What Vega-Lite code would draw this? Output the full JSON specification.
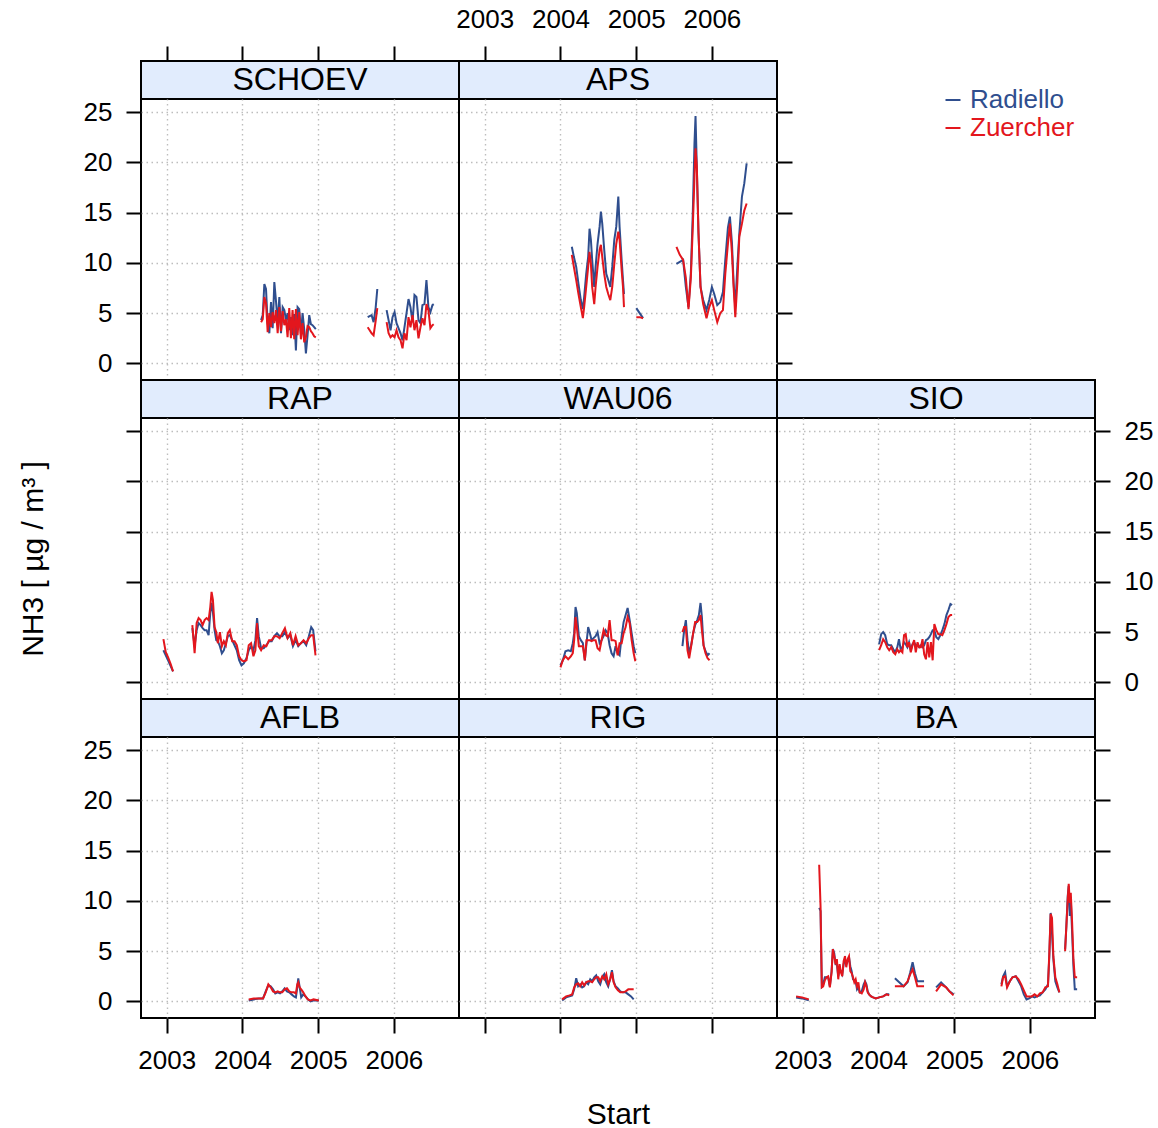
{
  "$schema": "https://vega.github.io/schema/vega-lite/v6.json",
  "padding": {"left": 17, "top": 5, "right": 5, "bottom": 5},
  "columns": 3,
  "spacing": 0,
  "bounds": "flush",
  "align": "each",
  "datasets": {
    "SCHOEV": [
      {"seg":1,"Start":2004.246,"Radiello":4.3,"Zuercher":4.1},{"seg":1,"Start":2004.268,"Radiello":4.8,"Zuercher":4.4},{"seg":1,"Start":2004.289,"Radiello":7.9,"Zuercher":6.6},{"seg":1,"Start":2004.311,"Radiello":7.4,"Zuercher":6.0},{"seg":1,"Start":2004.333,"Radiello":4.0,"Zuercher":3.1},{"seg":1,"Start":2004.355,"Radiello":3.0,"Zuercher":5.0},{"seg":1,"Start":2004.377,"Radiello":6.1,"Zuercher":3.6},{"seg":1,"Start":2004.399,"Radiello":3.5,"Zuercher":5.1},{"seg":1,"Start":2004.421,"Radiello":8.1,"Zuercher":4.0},{"seg":1,"Start":2004.443,"Radiello":6.2,"Zuercher":5.3},{"seg":1,"Start":2004.465,"Radiello":4.0,"Zuercher":3.0},{"seg":1,"Start":2004.487,"Radiello":6.6,"Zuercher":5.6},{"seg":1,"Start":2004.509,"Radiello":3.0,"Zuercher":3.2},{"seg":1,"Start":2004.531,"Radiello":5.6,"Zuercher":5.2},{"seg":1,"Start":2004.553,"Radiello":5.3,"Zuercher":3.8},{"seg":1,"Start":2004.575,"Radiello":4.3,"Zuercher":4.4},{"seg":1,"Start":2004.596,"Radiello":5.0,"Zuercher":2.6},{"seg":1,"Start":2004.618,"Radiello":3.3,"Zuercher":5.5},{"seg":1,"Start":2004.640,"Radiello":4.6,"Zuercher":2.5},{"seg":1,"Start":2004.662,"Radiello":2.8,"Zuercher":5.3},{"seg":1,"Start":2004.684,"Radiello":4.9,"Zuercher":2.4},{"seg":1,"Start":2004.706,"Radiello":1.3,"Zuercher":5.4},{"seg":1,"Start":2004.728,"Radiello":5.6,"Zuercher":2.8},{"seg":1,"Start":2004.750,"Radiello":5.4,"Zuercher":5.1},{"seg":1,"Start":2004.772,"Radiello":2.9,"Zuercher":2.4},{"seg":1,"Start":2004.794,"Radiello":5.0,"Zuercher":4.0},{"seg":1,"Start":2004.816,"Radiello":3.4,"Zuercher":2.1},{"seg":1,"Start":2004.838,"Radiello":1.0,"Zuercher":2.6},{"seg":1,"Start":2004.860,"Radiello":2.8,"Zuercher":3.7},{"seg":1,"Start":2004.882,"Radiello":4.8,"Zuercher":3.6},{"seg":1,"Start":2004.904,"Radiello":3.9,"Zuercher":3.2},{"seg":1,"Start":2004.925,"Radiello":3.8,"Zuercher":3.0},{"seg":1,"Start":2004.947,"Radiello":3.6,"Zuercher":2.7},{"seg":1,"Start":2004.969,"Radiello":3.4,"Zuercher":2.6},
      {"seg":2,"Start":2005.654,"Radiello":4.6,"Zuercher":3.6},{"seg":2,"Start":2005.680,"Radiello":4.7,"Zuercher":3.3},{"seg":2,"Start":2005.706,"Radiello":4.8,"Zuercher":3.0},{"seg":2,"Start":2005.732,"Radiello":4.1,"Zuercher":2.8},{"seg":2,"Start":2005.759,"Radiello":5.5,"Zuercher":4.2},{"seg":2,"Start":2005.781,"Radiello":7.4,"Zuercher":5.5},
      {"seg":3,"Start":2005.904,"Radiello":5.3,"Zuercher":4.1},{"seg":3,"Start":2005.930,"Radiello":4.3,"Zuercher":3.0},{"seg":3,"Start":2005.956,"Radiello":3.3,"Zuercher":2.6},{"seg":3,"Start":2005.982,"Radiello":4.6,"Zuercher":2.8},{"seg":3,"Start":2006.009,"Radiello":5.1,"Zuercher":2.6},{"seg":3,"Start":2006.035,"Radiello":4.0,"Zuercher":3.3},{"seg":3,"Start":2006.061,"Radiello":3.5,"Zuercher":2.6},{"seg":3,"Start":2006.088,"Radiello":3.0,"Zuercher":2.3},{"seg":3,"Start":2006.114,"Radiello":2.3,"Zuercher":1.5},{"seg":3,"Start":2006.140,"Radiello":3.6,"Zuercher":3.0},{"seg":3,"Start":2006.167,"Radiello":5.0,"Zuercher":2.3},{"seg":3,"Start":2006.193,"Radiello":6.4,"Zuercher":4.6},{"seg":3,"Start":2006.219,"Radiello":5.6,"Zuercher":3.6},{"seg":3,"Start":2006.246,"Radiello":4.1,"Zuercher":4.8},{"seg":3,"Start":2006.272,"Radiello":6.8,"Zuercher":3.3},{"seg":3,"Start":2006.298,"Radiello":6.6,"Zuercher":4.3},{"seg":3,"Start":2006.325,"Radiello":4.3,"Zuercher":2.5},{"seg":3,"Start":2006.351,"Radiello":4.0,"Zuercher":3.6},{"seg":3,"Start":2006.377,"Radiello":5.8,"Zuercher":4.5},{"seg":3,"Start":2006.404,"Radiello":5.9,"Zuercher":3.8},{"seg":3,"Start":2006.430,"Radiello":8.3,"Zuercher":5.9},{"seg":3,"Start":2006.456,"Radiello":5.6,"Zuercher":5.3},{"seg":3,"Start":2006.482,"Radiello":5.1,"Zuercher":3.5},{"seg":3,"Start":2006.509,"Radiello":5.8,"Zuercher":3.8},{"seg":3,"Start":2006.526,"Radiello":5.9,"Zuercher":3.9}
    ],
    "APS": [
      {"seg":1,"Start":2004.150,"Radiello":11.6,"Zuercher":10.8},{"seg":1,"Start":2004.177,"Radiello":10.6,"Zuercher":9.6},{"seg":1,"Start":2004.208,"Radiello":9.6,"Zuercher":8.3},{"seg":1,"Start":2004.238,"Radiello":7.9,"Zuercher":6.9},{"seg":1,"Start":2004.269,"Radiello":6.3,"Zuercher":5.6},{"seg":1,"Start":2004.296,"Radiello":5.4,"Zuercher":4.5},{"seg":1,"Start":2004.313,"Radiello":6.6,"Zuercher":5.6},{"seg":1,"Start":2004.340,"Radiello":8.9,"Zuercher":7.6},{"seg":1,"Start":2004.366,"Radiello":10.6,"Zuercher":9.6},{"seg":1,"Start":2004.384,"Radiello":13.4,"Zuercher":11.1},{"seg":1,"Start":2004.402,"Radiello":12.3,"Zuercher":9.9},{"seg":1,"Start":2004.419,"Radiello":10.3,"Zuercher":7.6},{"seg":1,"Start":2004.446,"Radiello":7.6,"Zuercher":5.9},{"seg":1,"Start":2004.464,"Radiello":9.6,"Zuercher":7.6},{"seg":1,"Start":2004.490,"Radiello":11.9,"Zuercher":9.6},{"seg":1,"Start":2004.517,"Radiello":13.6,"Zuercher":11.3},{"seg":1,"Start":2004.534,"Radiello":15.1,"Zuercher":11.8},{"seg":1,"Start":2004.552,"Radiello":13.9,"Zuercher":10.6},{"seg":1,"Start":2004.578,"Radiello":11.3,"Zuercher":8.9},{"seg":1,"Start":2004.605,"Radiello":8.9,"Zuercher":7.6},{"seg":1,"Start":2004.631,"Radiello":8.3,"Zuercher":6.9},{"seg":1,"Start":2004.658,"Radiello":7.6,"Zuercher":6.3},{"seg":1,"Start":2004.684,"Radiello":9.6,"Zuercher":7.6},{"seg":1,"Start":2004.711,"Radiello":12.3,"Zuercher":9.9},{"seg":1,"Start":2004.737,"Radiello":13.6,"Zuercher":11.9},{"seg":1,"Start":2004.764,"Radiello":16.6,"Zuercher":13.1},{"seg":1,"Start":2004.781,"Radiello":13.6,"Zuercher":12.3},{"seg":1,"Start":2004.808,"Radiello":10.3,"Zuercher":9.3},{"seg":1,"Start":2004.826,"Radiello":8.3,"Zuercher":7.6},{"seg":1,"Start":2004.839,"Radiello":6.9,"Zuercher":5.6},
      {"seg":2,"Start":2005.002,"Radiello":5.5,"Zuercher":4.6},{"seg":2,"Start":2005.046,"Radiello":5.0,"Zuercher":4.6},{"seg":2,"Start":2005.091,"Radiello":4.5,"Zuercher":4.5},
      {"seg":3,"Start":2005.532,"Radiello":9.9,"Zuercher":11.6},{"seg":3,"Start":2005.576,"Radiello":10.1,"Zuercher":10.8},{"seg":3,"Start":2005.620,"Radiello":10.3,"Zuercher":10.3},{"seg":3,"Start":2005.656,"Radiello":7.6,"Zuercher":8.5},{"seg":3,"Start":2005.691,"Radiello":5.6,"Zuercher":5.4},{"seg":3,"Start":2005.722,"Radiello":9.0,"Zuercher":8.5},{"seg":3,"Start":2005.748,"Radiello":15.0,"Zuercher":13.6},{"seg":3,"Start":2005.770,"Radiello":21.9,"Zuercher":18.5},{"seg":3,"Start":2005.784,"Radiello":24.6,"Zuercher":21.4},{"seg":3,"Start":2005.801,"Radiello":19.5,"Zuercher":19.6},{"seg":3,"Start":2005.823,"Radiello":13.0,"Zuercher":13.0},{"seg":3,"Start":2005.850,"Radiello":7.6,"Zuercher":7.6},{"seg":3,"Start":2005.885,"Radiello":6.3,"Zuercher":5.9},{"seg":3,"Start":2005.929,"Radiello":5.3,"Zuercher":4.5},{"seg":3,"Start":2005.965,"Radiello":6.3,"Zuercher":5.6},{"seg":3,"Start":2006.000,"Radiello":7.6,"Zuercher":6.3},{"seg":3,"Start":2006.031,"Radiello":6.9,"Zuercher":5.3},{"seg":3,"Start":2006.071,"Radiello":5.8,"Zuercher":4.1},{"seg":3,"Start":2006.110,"Radiello":6.1,"Zuercher":5.0},{"seg":3,"Start":2006.146,"Radiello":7.1,"Zuercher":5.3},{"seg":3,"Start":2006.177,"Radiello":10.3,"Zuercher":8.9},{"seg":3,"Start":2006.212,"Radiello":13.5,"Zuercher":11.9},{"seg":3,"Start":2006.238,"Radiello":14.6,"Zuercher":13.9},{"seg":3,"Start":2006.265,"Radiello":12.0,"Zuercher":11.0},{"seg":3,"Start":2006.287,"Radiello":8.0,"Zuercher":7.6},{"seg":3,"Start":2006.309,"Radiello":5.6,"Zuercher":4.6},{"seg":3,"Start":2006.336,"Radiello":9.6,"Zuercher":8.0},{"seg":3,"Start":2006.362,"Radiello":12.9,"Zuercher":12.6},{"seg":3,"Start":2006.397,"Radiello":16.6,"Zuercher":13.9},{"seg":3,"Start":2006.428,"Radiello":17.9,"Zuercher":15.2},{"seg":3,"Start":2006.459,"Radiello":19.9,"Zuercher":15.9}
    ],
    "RAP": [
      {"seg":1,"Start":2002.956,"Radiello":3.2,"Zuercher":4.3},{"seg":1,"Start":2002.987,"Radiello":2.7,"Zuercher":3.0},{"seg":1,"Start":2003.018,"Radiello":2.2,"Zuercher":2.5},{"seg":1,"Start":2003.053,"Radiello":1.6,"Zuercher":1.8},{"seg":1,"Start":2003.083,"Radiello":1.1,"Zuercher":1.1},
      {"seg":2,"Start":2003.338,"Radiello":5.4,"Zuercher":5.7},{"seg":2,"Start":2003.368,"Radiello":3.6,"Zuercher":2.9},{"seg":2,"Start":2003.395,"Radiello":5.2,"Zuercher":5.9},{"seg":2,"Start":2003.421,"Radiello":5.9,"Zuercher":6.4},{"seg":2,"Start":2003.447,"Radiello":5.7,"Zuercher":6.2},{"seg":2,"Start":2003.474,"Radiello":5.4,"Zuercher":5.7},{"seg":2,"Start":2003.500,"Radiello":5.2,"Zuercher":6.2},{"seg":2,"Start":2003.526,"Radiello":5.2,"Zuercher":6.4},{"seg":2,"Start":2003.553,"Radiello":4.7,"Zuercher":6.2},{"seg":2,"Start":2003.575,"Radiello":6.9,"Zuercher":7.5},{"seg":2,"Start":2003.592,"Radiello":7.9,"Zuercher":9.0},{"seg":2,"Start":2003.610,"Radiello":7.0,"Zuercher":8.2},{"seg":2,"Start":2003.632,"Radiello":5.2,"Zuercher":5.5},{"seg":2,"Start":2003.654,"Radiello":4.2,"Zuercher":5.0},{"seg":2,"Start":2003.675,"Radiello":4.1,"Zuercher":3.9},{"seg":2,"Start":2003.702,"Radiello":3.6,"Zuercher":5.0},{"seg":2,"Start":2003.728,"Radiello":2.9,"Zuercher":3.6},{"seg":2,"Start":2003.754,"Radiello":3.2,"Zuercher":4.1},{"seg":2,"Start":2003.781,"Radiello":3.9,"Zuercher":3.7},{"seg":2,"Start":2003.807,"Radiello":4.6,"Zuercher":4.9},{"seg":2,"Start":2003.833,"Radiello":4.7,"Zuercher":5.2},{"seg":2,"Start":2003.864,"Radiello":4.2,"Zuercher":4.1},{"seg":2,"Start":2003.895,"Radiello":3.7,"Zuercher":4.1},{"seg":2,"Start":2003.925,"Radiello":3.2,"Zuercher":3.7},{"seg":2,"Start":2003.956,"Radiello":2.2,"Zuercher":2.6},{"seg":2,"Start":2003.987,"Radiello":1.7,"Zuercher":2.2},{"seg":2,"Start":2004.018,"Radiello":1.9,"Zuercher":2.1},{"seg":2,"Start":2004.053,"Radiello":2.4,"Zuercher":2.2},{"seg":2,"Start":2004.083,"Radiello":3.2,"Zuercher":3.7},{"seg":2,"Start":2004.114,"Radiello":3.6,"Zuercher":3.9},{"seg":2,"Start":2004.145,"Radiello":3.2,"Zuercher":2.6},{"seg":2,"Start":2004.171,"Radiello":4.2,"Zuercher":3.2},{"seg":2,"Start":2004.193,"Radiello":6.4,"Zuercher":5.9},{"seg":2,"Start":2004.215,"Radiello":4.6,"Zuercher":3.6},{"seg":2,"Start":2004.246,"Radiello":3.4,"Zuercher":3.2},{"seg":2,"Start":2004.281,"Radiello":3.4,"Zuercher":3.7},{"seg":2,"Start":2004.316,"Radiello":3.7,"Zuercher":3.6},{"seg":2,"Start":2004.351,"Radiello":4.1,"Zuercher":4.2},{"seg":2,"Start":2004.386,"Radiello":4.1,"Zuercher":4.2},{"seg":2,"Start":2004.421,"Radiello":4.6,"Zuercher":4.6},{"seg":2,"Start":2004.456,"Radiello":4.9,"Zuercher":4.6},{"seg":2,"Start":2004.491,"Radiello":4.6,"Zuercher":4.4},{"seg":2,"Start":2004.526,"Radiello":4.6,"Zuercher":4.9},{"seg":2,"Start":2004.561,"Radiello":5.0,"Zuercher":5.4},{"seg":2,"Start":2004.596,"Radiello":4.4,"Zuercher":4.4},{"seg":2,"Start":2004.632,"Radiello":4.7,"Zuercher":4.9},{"seg":2,"Start":2004.667,"Radiello":3.6,"Zuercher":3.7},{"seg":2,"Start":2004.702,"Radiello":4.2,"Zuercher":4.6},{"seg":2,"Start":2004.737,"Radiello":3.6,"Zuercher":3.7},{"seg":2,"Start":2004.772,"Radiello":3.9,"Zuercher":3.9},{"seg":2,"Start":2004.807,"Radiello":4.1,"Zuercher":4.2},{"seg":2,"Start":2004.842,"Radiello":3.7,"Zuercher":3.9},{"seg":2,"Start":2004.877,"Radiello":4.6,"Zuercher":4.4},{"seg":2,"Start":2004.908,"Radiello":5.5,"Zuercher":4.7},{"seg":2,"Start":2004.934,"Radiello":5.2,"Zuercher":4.7},{"seg":2,"Start":2004.965,"Radiello":3.1,"Zuercher":2.7}
    ],
    "WAU06": [
      {"seg":1,"Start":2004.000,"Radiello":1.7,"Zuercher":1.5},{"seg":1,"Start":2004.031,"Radiello":2.2,"Zuercher":2.2},{"seg":1,"Start":2004.066,"Radiello":3.1,"Zuercher":2.6},{"seg":1,"Start":2004.102,"Radiello":3.2,"Zuercher":2.3},{"seg":1,"Start":2004.137,"Radiello":3.1,"Zuercher":2.6},{"seg":1,"Start":2004.163,"Radiello":3.9,"Zuercher":2.9},{"seg":1,"Start":2004.181,"Radiello":4.9,"Zuercher":4.2},{"seg":1,"Start":2004.199,"Radiello":7.5,"Zuercher":6.5},{"seg":1,"Start":2004.216,"Radiello":6.9,"Zuercher":5.5},{"seg":1,"Start":2004.243,"Radiello":4.6,"Zuercher":3.6},{"seg":1,"Start":2004.269,"Radiello":4.2,"Zuercher":3.6},{"seg":1,"Start":2004.296,"Radiello":3.9,"Zuercher":3.6},{"seg":1,"Start":2004.322,"Radiello":2.2,"Zuercher":2.2},{"seg":1,"Start":2004.344,"Radiello":3.9,"Zuercher":4.2},{"seg":1,"Start":2004.366,"Radiello":5.5,"Zuercher":4.2},{"seg":1,"Start":2004.389,"Radiello":4.9,"Zuercher":4.2},{"seg":1,"Start":2004.411,"Radiello":4.2,"Zuercher":4.1},{"seg":1,"Start":2004.437,"Radiello":4.4,"Zuercher":4.2},{"seg":1,"Start":2004.464,"Radiello":4.6,"Zuercher":4.2},{"seg":1,"Start":2004.490,"Radiello":5.0,"Zuercher":3.4},{"seg":1,"Start":2004.517,"Radiello":3.9,"Zuercher":3.2},{"seg":1,"Start":2004.543,"Radiello":4.2,"Zuercher":4.2},{"seg":1,"Start":2004.570,"Radiello":4.6,"Zuercher":5.2},{"seg":1,"Start":2004.596,"Radiello":5.2,"Zuercher":4.7},{"seg":1,"Start":2004.623,"Radiello":4.9,"Zuercher":4.6},{"seg":1,"Start":2004.649,"Radiello":3.7,"Zuercher":6.2},{"seg":1,"Start":2004.675,"Radiello":2.9,"Zuercher":4.2},{"seg":1,"Start":2004.702,"Radiello":2.6,"Zuercher":4.2},{"seg":1,"Start":2004.728,"Radiello":3.6,"Zuercher":4.1},{"seg":1,"Start":2004.755,"Radiello":2.9,"Zuercher":2.7},{"seg":1,"Start":2004.781,"Radiello":2.7,"Zuercher":3.9},{"seg":1,"Start":2004.808,"Radiello":4.6,"Zuercher":3.9},{"seg":1,"Start":2004.834,"Radiello":6.0,"Zuercher":4.9},{"seg":1,"Start":2004.861,"Radiello":6.7,"Zuercher":5.5},{"seg":1,"Start":2004.887,"Radiello":7.4,"Zuercher":6.5},{"seg":1,"Start":2004.914,"Radiello":6.2,"Zuercher":5.9},{"seg":1,"Start":2004.940,"Radiello":4.9,"Zuercher":4.2},{"seg":1,"Start":2004.967,"Radiello":3.6,"Zuercher":2.9},{"seg":1,"Start":2004.989,"Radiello":2.9,"Zuercher":2.1},
      {"seg":2,"Start":2005.611,"Radiello":3.6,"Zuercher":5.0},{"seg":2,"Start":2005.634,"Radiello":5.2,"Zuercher":5.5},{"seg":2,"Start":2005.656,"Radiello":6.2,"Zuercher":5.5},{"seg":2,"Start":2005.678,"Radiello":4.2,"Zuercher":3.2},{"seg":2,"Start":2005.700,"Radiello":2.9,"Zuercher":2.4},{"seg":2,"Start":2005.726,"Radiello":3.7,"Zuercher":3.6},{"seg":2,"Start":2005.753,"Radiello":4.9,"Zuercher":4.9},{"seg":2,"Start":2005.779,"Radiello":5.7,"Zuercher":6.0},{"seg":2,"Start":2005.806,"Radiello":6.2,"Zuercher":6.0},{"seg":2,"Start":2005.828,"Radiello":6.7,"Zuercher":6.2},{"seg":2,"Start":2005.850,"Radiello":7.9,"Zuercher":6.7},{"seg":2,"Start":2005.868,"Radiello":6.5,"Zuercher":5.2},{"seg":2,"Start":2005.890,"Radiello":3.7,"Zuercher":3.7},{"seg":2,"Start":2005.916,"Radiello":3.1,"Zuercher":2.9},{"seg":2,"Start":2005.943,"Radiello":2.7,"Zuercher":2.4},{"seg":2,"Start":2005.969,"Radiello":2.9,"Zuercher":2.2}
    ],
    "SIO": [
      {"seg":1,"Start":2004.009,"Radiello":3.8,"Zuercher":3.2},{"seg":1,"Start":2004.036,"Radiello":4.8,"Zuercher":3.7},{"seg":1,"Start":2004.062,"Radiello":5.0,"Zuercher":4.3},{"seg":1,"Start":2004.089,"Radiello":4.7,"Zuercher":4.0},{"seg":1,"Start":2004.116,"Radiello":3.8,"Zuercher":3.5},{"seg":1,"Start":2004.142,"Radiello":3.7,"Zuercher":3.2},{"seg":1,"Start":2004.169,"Radiello":3.7,"Zuercher":3.5},{"seg":1,"Start":2004.196,"Radiello":3.3,"Zuercher":3.0},{"seg":1,"Start":2004.222,"Radiello":3.0,"Zuercher":2.8},{"seg":1,"Start":2004.249,"Radiello":3.5,"Zuercher":3.3},{"seg":1,"Start":2004.271,"Radiello":4.3,"Zuercher":3.0},{"seg":1,"Start":2004.293,"Radiello":3.3,"Zuercher":3.2},{"seg":1,"Start":2004.316,"Radiello":3.5,"Zuercher":3.0},{"seg":1,"Start":2004.338,"Radiello":4.0,"Zuercher":4.7},{"seg":1,"Start":2004.360,"Radiello":3.8,"Zuercher":4.8},{"seg":1,"Start":2004.382,"Radiello":3.5,"Zuercher":3.5},{"seg":1,"Start":2004.404,"Radiello":4.0,"Zuercher":4.0},{"seg":1,"Start":2004.427,"Radiello":3.2,"Zuercher":3.0},{"seg":1,"Start":2004.449,"Radiello":3.8,"Zuercher":3.7},{"seg":1,"Start":2004.471,"Radiello":4.0,"Zuercher":4.2},{"seg":1,"Start":2004.493,"Radiello":3.7,"Zuercher":3.0},{"seg":1,"Start":2004.516,"Radiello":3.7,"Zuercher":4.0},{"seg":1,"Start":2004.538,"Radiello":3.5,"Zuercher":3.5},{"seg":1,"Start":2004.560,"Radiello":3.7,"Zuercher":3.5},{"seg":1,"Start":2004.582,"Radiello":3.5,"Zuercher":4.3},{"seg":1,"Start":2004.604,"Radiello":3.7,"Zuercher":2.8},{"seg":1,"Start":2004.627,"Radiello":4.2,"Zuercher":2.3},{"seg":1,"Start":2004.649,"Radiello":4.3,"Zuercher":4.0},{"seg":1,"Start":2004.671,"Radiello":4.5,"Zuercher":2.5},{"seg":1,"Start":2004.693,"Radiello":4.8,"Zuercher":4.0},{"seg":1,"Start":2004.716,"Radiello":5.2,"Zuercher":2.2},{"seg":1,"Start":2004.738,"Radiello":5.2,"Zuercher":5.8},{"seg":1,"Start":2004.764,"Radiello":4.5,"Zuercher":5.2},{"seg":1,"Start":2004.791,"Radiello":4.3,"Zuercher":4.8},{"seg":1,"Start":2004.818,"Radiello":4.7,"Zuercher":4.8},{"seg":1,"Start":2004.844,"Radiello":5.2,"Zuercher":4.7},{"seg":1,"Start":2004.871,"Radiello":5.8,"Zuercher":5.2},{"seg":1,"Start":2004.898,"Radiello":6.7,"Zuercher":5.8},{"seg":1,"Start":2004.924,"Radiello":7.2,"Zuercher":6.5},{"seg":1,"Start":2004.951,"Radiello":7.8,"Zuercher":6.7},{"seg":1,"Start":2004.973,"Radiello":7.7,"Zuercher":6.7}
    ],
    "AFLB": [
      {"seg":1,"Start":2004.083,"Radiello":0.1,"Zuercher":0.2},{"seg":1,"Start":2004.149,"Radiello":0.2,"Zuercher":0.3},{"seg":1,"Start":2004.215,"Radiello":0.3,"Zuercher":0.3},{"seg":1,"Start":2004.272,"Radiello":0.3,"Zuercher":0.3},{"seg":1,"Start":2004.307,"Radiello":1.0,"Zuercher":0.9},{"seg":1,"Start":2004.342,"Radiello":1.6,"Zuercher":1.7},{"seg":1,"Start":2004.373,"Radiello":1.5,"Zuercher":1.4},{"seg":1,"Start":2004.404,"Radiello":1.2,"Zuercher":1.0},{"seg":1,"Start":2004.434,"Radiello":0.8,"Zuercher":0.9},{"seg":1,"Start":2004.465,"Radiello":0.9,"Zuercher":1.0},{"seg":1,"Start":2004.496,"Radiello":0.8,"Zuercher":0.9},{"seg":1,"Start":2004.526,"Radiello":1.0,"Zuercher":0.9},{"seg":1,"Start":2004.557,"Radiello":1.3,"Zuercher":1.2},{"seg":1,"Start":2004.588,"Radiello":1.0,"Zuercher":1.3},{"seg":1,"Start":2004.618,"Radiello":0.9,"Zuercher":1.0},{"seg":1,"Start":2004.649,"Radiello":0.7,"Zuercher":0.9},{"seg":1,"Start":2004.680,"Radiello":0.5,"Zuercher":0.9},{"seg":1,"Start":2004.706,"Radiello":0.4,"Zuercher":0.8},{"seg":1,"Start":2004.724,"Radiello":1.4,"Zuercher":1.7},{"seg":1,"Start":2004.737,"Radiello":2.3,"Zuercher":1.9},{"seg":1,"Start":2004.754,"Radiello":1.5,"Zuercher":1.4},{"seg":1,"Start":2004.776,"Radiello":0.4,"Zuercher":1.2},{"seg":1,"Start":2004.803,"Radiello":0.7,"Zuercher":0.9},{"seg":1,"Start":2004.833,"Radiello":0.5,"Zuercher":0.5},{"seg":1,"Start":2004.864,"Radiello":0.2,"Zuercher":0.2},{"seg":1,"Start":2004.899,"Radiello":0.0,"Zuercher":0.1},{"seg":1,"Start":2004.939,"Radiello":0.1,"Zuercher":0.2},{"seg":1,"Start":2005.009,"Radiello":0.1,"Zuercher":0.1}
    ],
    "RIG": [
      {"seg":1,"Start":2004.022,"Radiello":0.1,"Zuercher":0.2},{"seg":1,"Start":2004.075,"Radiello":0.4,"Zuercher":0.5},{"seg":1,"Start":2004.119,"Radiello":0.5,"Zuercher":0.6},{"seg":1,"Start":2004.155,"Radiello":0.6,"Zuercher":0.7},{"seg":1,"Start":2004.181,"Radiello":1.2,"Zuercher":1.4},{"seg":1,"Start":2004.208,"Radiello":2.3,"Zuercher":1.7},{"seg":1,"Start":2004.234,"Radiello":1.5,"Zuercher":1.8},{"seg":1,"Start":2004.260,"Radiello":1.7,"Zuercher":1.5},{"seg":1,"Start":2004.287,"Radiello":1.4,"Zuercher":1.9},{"seg":1,"Start":2004.313,"Radiello":1.5,"Zuercher":1.6},{"seg":1,"Start":2004.340,"Radiello":1.9,"Zuercher":1.9},{"seg":1,"Start":2004.366,"Radiello":1.7,"Zuercher":2.0},{"seg":1,"Start":2004.393,"Radiello":2.2,"Zuercher":2.0},{"seg":1,"Start":2004.419,"Radiello":2.0,"Zuercher":1.9},{"seg":1,"Start":2004.446,"Radiello":2.4,"Zuercher":2.2},{"seg":1,"Start":2004.472,"Radiello":2.6,"Zuercher":2.4},{"seg":1,"Start":2004.499,"Radiello":2.0,"Zuercher":2.4},{"seg":1,"Start":2004.525,"Radiello":1.7,"Zuercher":2.0},{"seg":1,"Start":2004.552,"Radiello":2.4,"Zuercher":2.5},{"seg":1,"Start":2004.578,"Radiello":2.7,"Zuercher":2.2},{"seg":1,"Start":2004.605,"Radiello":1.9,"Zuercher":2.7},{"seg":1,"Start":2004.631,"Radiello":1.5,"Zuercher":1.7},{"seg":1,"Start":2004.658,"Radiello":2.3,"Zuercher":2.2},{"seg":1,"Start":2004.680,"Radiello":3.1,"Zuercher":2.9},{"seg":1,"Start":2004.702,"Radiello":2.0,"Zuercher":1.9},{"seg":1,"Start":2004.728,"Radiello":1.5,"Zuercher":1.4},{"seg":1,"Start":2004.759,"Radiello":1.3,"Zuercher":1.1},{"seg":1,"Start":2004.790,"Radiello":1.0,"Zuercher":0.9},{"seg":1,"Start":2004.826,"Radiello":0.9,"Zuercher":0.9},{"seg":1,"Start":2004.861,"Radiello":0.9,"Zuercher":1.0},{"seg":1,"Start":2004.896,"Radiello":0.7,"Zuercher":1.2},{"seg":1,"Start":2004.932,"Radiello":0.5,"Zuercher":1.2},{"seg":1,"Start":2004.967,"Radiello":0.2,"Zuercher":1.2}
    ],
    "BA": [
      {"seg":1,"Start":2002.912,"Radiello":0.4,"Zuercher":0.5},{"seg":1,"Start":2002.991,"Radiello":0.3,"Zuercher":0.4},{"seg":1,"Start":2003.080,"Radiello":0.1,"Zuercher":0.2},
      {"seg":2,"Start":2003.217,"Radiello":9.3,"Zuercher":13.6},{"seg":2,"Start":2003.235,"Radiello":9.0,"Zuercher":9.5},{"seg":2,"Start":2003.252,"Radiello":1.5,"Zuercher":1.4},{"seg":2,"Start":2003.270,"Radiello":1.7,"Zuercher":1.5},{"seg":2,"Start":2003.292,"Radiello":2.4,"Zuercher":2.1},{"seg":2,"Start":2003.314,"Radiello":2.4,"Zuercher":2.4},{"seg":2,"Start":2003.336,"Radiello":2.4,"Zuercher":2.5},{"seg":2,"Start":2003.358,"Radiello":1.5,"Zuercher":1.4},{"seg":2,"Start":2003.381,"Radiello":3.0,"Zuercher":2.9},{"seg":2,"Start":2003.398,"Radiello":5.2,"Zuercher":5.2},{"seg":2,"Start":2003.416,"Radiello":4.8,"Zuercher":4.5},{"seg":2,"Start":2003.434,"Radiello":3.7,"Zuercher":3.7},{"seg":2,"Start":2003.451,"Radiello":3.7,"Zuercher":4.2},{"seg":2,"Start":2003.469,"Radiello":2.5,"Zuercher":2.2},{"seg":2,"Start":2003.487,"Radiello":3.2,"Zuercher":3.7},{"seg":2,"Start":2003.504,"Radiello":3.0,"Zuercher":2.9},{"seg":2,"Start":2003.522,"Radiello":2.7,"Zuercher":2.5},{"seg":2,"Start":2003.540,"Radiello":3.7,"Zuercher":4.0},{"seg":2,"Start":2003.558,"Radiello":4.2,"Zuercher":4.5},{"seg":2,"Start":2003.575,"Radiello":3.7,"Zuercher":3.4},{"seg":2,"Start":2003.593,"Radiello":4.0,"Zuercher":4.2},{"seg":2,"Start":2003.611,"Radiello":4.4,"Zuercher":4.5},{"seg":2,"Start":2003.628,"Radiello":3.5,"Zuercher":3.0},{"seg":2,"Start":2003.646,"Radiello":3.0,"Zuercher":2.8},{"seg":2,"Start":2003.664,"Radiello":2.2,"Zuercher":2.4},{"seg":2,"Start":2003.681,"Radiello":2.1,"Zuercher":1.9},{"seg":2,"Start":2003.699,"Radiello":2.0,"Zuercher":2.2},{"seg":2,"Start":2003.717,"Radiello":1.2,"Zuercher":1.5},{"seg":2,"Start":2003.735,"Radiello":1.4,"Zuercher":1.9},{"seg":2,"Start":2003.752,"Radiello":0.9,"Zuercher":0.9},{"seg":2,"Start":2003.779,"Radiello":1.0,"Zuercher":0.8},{"seg":2,"Start":2003.805,"Radiello":1.7,"Zuercher":1.2},{"seg":2,"Start":2003.823,"Radiello":2.0,"Zuercher":1.9},{"seg":2,"Start":2003.841,"Radiello":1.7,"Zuercher":1.5},{"seg":2,"Start":2003.858,"Radiello":1.0,"Zuercher":0.9},{"seg":2,"Start":2003.876,"Radiello":0.7,"Zuercher":0.7},{"seg":2,"Start":2003.903,"Radiello":0.5,"Zuercher":0.5},{"seg":2,"Start":2003.929,"Radiello":0.4,"Zuercher":0.4},{"seg":2,"Start":2003.965,"Radiello":0.3,"Zuercher":0.3},{"seg":2,"Start":2004.009,"Radiello":0.4,"Zuercher":0.4},{"seg":2,"Start":2004.062,"Radiello":0.5,"Zuercher":0.5},{"seg":2,"Start":2004.106,"Radiello":0.7,"Zuercher":0.7},{"seg":2,"Start":2004.142,"Radiello":0.7,"Zuercher":0.6},
      {"seg":3,"Start":2004.217,"Radiello":2.3,"Zuercher":1.5},{"seg":3,"Start":2004.274,"Radiello":1.9,"Zuercher":1.5},{"seg":3,"Start":2004.332,"Radiello":1.5,"Zuercher":1.5},{"seg":3,"Start":2004.385,"Radiello":1.9,"Zuercher":2.0},{"seg":3,"Start":2004.420,"Radiello":2.9,"Zuercher":2.7},{"seg":3,"Start":2004.451,"Radiello":3.9,"Zuercher":3.2},{"seg":3,"Start":2004.482,"Radiello":2.8,"Zuercher":2.4},{"seg":3,"Start":2004.513,"Radiello":2.0,"Zuercher":1.5},{"seg":3,"Start":2004.558,"Radiello":2.0,"Zuercher":1.5},{"seg":3,"Start":2004.602,"Radiello":2.0,"Zuercher":1.5},
      {"seg":4,"Start":2004.761,"Radiello":1.4,"Zuercher":1.0},{"seg":4,"Start":2004.827,"Radiello":1.9,"Zuercher":1.7},{"seg":4,"Start":2004.894,"Radiello":1.4,"Zuercher":1.4},{"seg":4,"Start":2004.938,"Radiello":1.0,"Zuercher":1.0},{"seg":4,"Start":2004.991,"Radiello":0.7,"Zuercher":0.6},
      {"seg":5,"Start":2005.624,"Radiello":1.7,"Zuercher":1.5},{"seg":5,"Start":2005.646,"Radiello":2.5,"Zuercher":2.4},{"seg":5,"Start":2005.673,"Radiello":2.9,"Zuercher":2.5},{"seg":5,"Start":2005.699,"Radiello":1.5,"Zuercher":1.4},{"seg":5,"Start":2005.735,"Radiello":2.0,"Zuercher":2.0},{"seg":5,"Start":2005.770,"Radiello":2.4,"Zuercher":2.4},{"seg":5,"Start":2005.814,"Radiello":2.5,"Zuercher":2.5},{"seg":5,"Start":2005.850,"Radiello":2.0,"Zuercher":2.2},{"seg":5,"Start":2005.885,"Radiello":1.5,"Zuercher":1.7},{"seg":5,"Start":2005.920,"Radiello":0.7,"Zuercher":1.1},{"seg":5,"Start":2005.956,"Radiello":0.2,"Zuercher":0.5},{"seg":5,"Start":2005.991,"Radiello":0.3,"Zuercher":0.5},{"seg":5,"Start":2006.027,"Radiello":0.5,"Zuercher":0.5},{"seg":5,"Start":2006.062,"Radiello":0.4,"Zuercher":0.7},{"seg":5,"Start":2006.097,"Radiello":0.5,"Zuercher":0.5},{"seg":5,"Start":2006.133,"Radiello":0.6,"Zuercher":0.8},{"seg":5,"Start":2006.168,"Radiello":0.9,"Zuercher":0.9},{"seg":5,"Start":2006.204,"Radiello":1.2,"Zuercher":1.4},{"seg":5,"Start":2006.239,"Radiello":1.7,"Zuercher":1.5},{"seg":5,"Start":2006.257,"Radiello":4.5,"Zuercher":4.9},{"seg":5,"Start":2006.274,"Radiello":8.8,"Zuercher":8.7},{"seg":5,"Start":2006.292,"Radiello":6.8,"Zuercher":8.3},{"seg":5,"Start":2006.310,"Radiello":4.2,"Zuercher":4.5},{"seg":5,"Start":2006.336,"Radiello":2.0,"Zuercher":2.4},{"seg":5,"Start":2006.363,"Radiello":1.4,"Zuercher":1.7},{"seg":5,"Start":2006.389,"Radiello":0.9,"Zuercher":0.9},
      {"seg":6,"Start":2006.465,"Radiello":5.2,"Zuercher":5.0},{"seg":6,"Start":2006.482,"Radiello":7.5,"Zuercher":7.5},{"seg":6,"Start":2006.500,"Radiello":10.5,"Zuercher":10.2},{"seg":6,"Start":2006.513,"Radiello":11.5,"Zuercher":11.7},{"seg":6,"Start":2006.527,"Radiello":8.5,"Zuercher":9.8},{"seg":6,"Start":2006.540,"Radiello":10.2,"Zuercher":10.8},{"seg":6,"Start":2006.558,"Radiello":6.8,"Zuercher":7.8},{"seg":6,"Start":2006.575,"Radiello":3.5,"Zuercher":4.2},{"seg":6,"Start":2006.593,"Radiello":1.2,"Zuercher":2.4},{"seg":6,"Start":2006.624,"Radiello":1.2,"Zuercher":2.4}
    ]
  },
  "concat": [
    {"width": 318, "height": 38, "view": {"fill": "#e1ecfd", "stroke": "black", "strokeWidth": 2}, "data": {"values": [{"site": "SCHOEV"}]}, "mark": {"type": "text", "baseline": "middle"}, "encoding": {"text": {"field": "site"}}},
    {"width": 318, "height": 38, "view": {"fill": "#e1ecfd", "stroke": "black", "strokeWidth": 2}, "data": {"values": [{"site": "APS"}]}, "mark": {"type": "text", "baseline": "middle"}, "encoding": {"text": {"field": "site"}}},
    {"width": 318, "height": 38, "view": {"stroke": null}, "data": {"values": []}, "mark": "text"},

    {"width": 318, "height": 281, "data": {"name": "SCHOEV"},
     "transform": [{"fold": ["Radiello", "Zuercher"], "as": ["method", "NH3"]}],
     "mark": {"type": "line", "strokeWidth": 2},
     "encoding": {
       "x": {"field": "Start", "type": "quantitative", "scale": {"domain": [2002.66, 2006.86], "nice": false, "zero": false}, "axis": {"orient": "top", "offset": 38, "values": [2003, 2004, 2005, 2006], "labels": false, "title": null}},
       "y": {"field": "NH3", "type": "quantitative", "scale": {"domain": [-1.65, 26.3], "nice": false, "zero": false}, "axis": {"orient": "left", "values": [0, 5, 10, 15, 20, 25], "title": null}},
       "color": {"field": "method", "type": "nominal", "title": null, "scale": {"domain": ["Radiello", "Zuercher"], "range": ["#2f4e8e", "#e3161d"]}},
       "detail": {"field": "seg", "type": "nominal"}
     }},
    {"width": 318, "height": 281, "data": {"name": "APS"},
     "transform": [{"fold": ["Radiello", "Zuercher"], "as": ["method", "NH3"]}],
     "mark": {"type": "line", "strokeWidth": 2},
     "encoding": {
       "x": {"field": "Start", "type": "quantitative", "scale": {"domain": [2002.66, 2006.86], "nice": false, "zero": false}, "axis": {"orient": "top", "offset": 38, "values": [2003, 2004, 2005, 2006], "format": "d", "title": null}},
       "y": {"field": "NH3", "type": "quantitative", "scale": {"domain": [-1.65, 26.3], "nice": false, "zero": false}, "axis": {"orient": "right", "values": [0, 5, 10, 15, 20, 25], "labels": false, "title": null}},
       "color": {"field": "method", "type": "nominal", "title": null, "scale": {"domain": ["Radiello", "Zuercher"], "range": ["#2f4e8e", "#e3161d"]}},
       "detail": {"field": "seg", "type": "nominal"}
     }},
    {"width": 318, "height": 281, "view": {"stroke": null}, "data": {"values": []}, "mark": "text"},

    {"width": 318, "height": 38, "view": {"fill": "#e1ecfd", "stroke": "black", "strokeWidth": 2}, "data": {"values": [{"site": "RAP"}]}, "mark": {"type": "text", "baseline": "middle"}, "encoding": {"text": {"field": "site"}}},
    {"width": 318, "height": 38, "view": {"fill": "#e1ecfd", "stroke": "black", "strokeWidth": 2}, "data": {"values": [{"site": "WAU06"}]}, "mark": {"type": "text", "baseline": "middle"}, "encoding": {"text": {"field": "site"}}},
    {"width": 318, "height": 38, "view": {"fill": "#e1ecfd", "stroke": "black", "strokeWidth": 2}, "data": {"values": [{"site": "SIO"}]}, "mark": {"type": "text", "baseline": "middle"}, "encoding": {"text": {"field": "site"}}},

    {"width": 318, "height": 281, "data": {"name": "RAP"},
     "transform": [{"fold": ["Radiello", "Zuercher"], "as": ["method", "NH3"]}],
     "mark": {"type": "line", "strokeWidth": 2},
     "encoding": {
       "x": {"field": "Start", "type": "quantitative", "scale": {"domain": [2002.66, 2006.86], "nice": false, "zero": false}, "axis": {"orient": "bottom", "values": [2003, 2004, 2005, 2006], "ticks": false, "labels": false, "title": null}},
       "y": {"field": "NH3", "type": "quantitative", "scale": {"domain": [-1.65, 26.3], "nice": false, "zero": false}, "axis": {"orient": "left", "values": [0, 5, 10, 15, 20, 25], "labels": false, "title": "NH3 [ µg / m³ ]", "titlePadding": 77}},
       "color": {"field": "method", "type": "nominal", "title": null, "scale": {"domain": ["Radiello", "Zuercher"], "range": ["#2f4e8e", "#e3161d"]}},
       "detail": {"field": "seg", "type": "nominal"}
     }},
    {"width": 318, "height": 281, "data": {"name": "WAU06"},
     "transform": [{"fold": ["Radiello", "Zuercher"], "as": ["method", "NH3"]}],
     "mark": {"type": "line", "strokeWidth": 2},
     "encoding": {
       "x": {"field": "Start", "type": "quantitative", "scale": {"domain": [2002.66, 2006.86], "nice": false, "zero": false}, "axis": {"orient": "bottom", "values": [2003, 2004, 2005, 2006], "ticks": false, "labels": false, "title": null}},
       "y": {"field": "NH3", "type": "quantitative", "scale": {"domain": [-1.65, 26.3], "nice": false, "zero": false}, "axis": {"orient": "left", "values": [0, 5, 10, 15, 20, 25], "ticks": false, "labels": false, "title": null}},
       "color": {"field": "method", "type": "nominal", "title": null, "scale": {"domain": ["Radiello", "Zuercher"], "range": ["#2f4e8e", "#e3161d"]}},
       "detail": {"field": "seg", "type": "nominal"}
     }},
    {"width": 318, "height": 281, "data": {"name": "SIO"},
     "transform": [{"fold": ["Radiello", "Zuercher"], "as": ["method", "NH3"]}],
     "mark": {"type": "line", "strokeWidth": 2},
     "encoding": {
       "x": {"field": "Start", "type": "quantitative", "scale": {"domain": [2002.66, 2006.86], "nice": false, "zero": false}, "axis": {"orient": "bottom", "values": [2003, 2004, 2005, 2006], "ticks": false, "labels": false, "title": null}},
       "y": {"field": "NH3", "type": "quantitative", "scale": {"domain": [-1.65, 26.3], "nice": false, "zero": false}, "axis": {"orient": "right", "values": [0, 5, 10, 15, 20, 25], "title": null}},
       "color": {"field": "method", "type": "nominal", "title": null, "scale": {"domain": ["Radiello", "Zuercher"], "range": ["#2f4e8e", "#e3161d"]}},
       "detail": {"field": "seg", "type": "nominal"}
     }},

    {"width": 318, "height": 38, "view": {"fill": "#e1ecfd", "stroke": "black", "strokeWidth": 2}, "data": {"values": [{"site": "AFLB"}]}, "mark": {"type": "text", "baseline": "middle"}, "encoding": {"text": {"field": "site"}}},
    {"width": 318, "height": 38, "view": {"fill": "#e1ecfd", "stroke": "black", "strokeWidth": 2}, "data": {"values": [{"site": "RIG"}]}, "mark": {"type": "text", "baseline": "middle"}, "encoding": {"text": {"field": "site"}}},
    {"width": 318, "height": 38, "view": {"fill": "#e1ecfd", "stroke": "black", "strokeWidth": 2}, "data": {"values": [{"site": "BA"}]}, "mark": {"type": "text", "baseline": "middle"}, "encoding": {"text": {"field": "site"}}},

    {"width": 318, "height": 281, "data": {"name": "AFLB"},
     "transform": [{"fold": ["Radiello", "Zuercher"], "as": ["method", "NH3"]}],
     "mark": {"type": "line", "strokeWidth": 2},
     "encoding": {
       "x": {"field": "Start", "type": "quantitative", "scale": {"domain": [2002.66, 2006.86], "nice": false, "zero": false}, "axis": {"orient": "bottom", "values": [2003, 2004, 2005, 2006], "format": "d", "title": null}},
       "y": {"field": "NH3", "type": "quantitative", "scale": {"domain": [-1.65, 26.3], "nice": false, "zero": false}, "axis": {"orient": "left", "values": [0, 5, 10, 15, 20, 25], "title": null}},
       "color": {"field": "method", "type": "nominal", "title": null, "scale": {"domain": ["Radiello", "Zuercher"], "range": ["#2f4e8e", "#e3161d"]}},
       "detail": {"field": "seg", "type": "nominal"}
     }},
    {"width": 318, "height": 281, "data": {"name": "RIG"},
     "transform": [{"fold": ["Radiello", "Zuercher"], "as": ["method", "NH3"]}],
     "mark": {"type": "line", "strokeWidth": 2},
     "encoding": {
       "x": {"field": "Start", "type": "quantitative", "scale": {"domain": [2002.66, 2006.86], "nice": false, "zero": false}, "axis": {"orient": "bottom", "values": [2003, 2004, 2005, 2006], "labels": false, "title": "Start", "titlePadding": 65}},
       "y": {"field": "NH3", "type": "quantitative", "scale": {"domain": [-1.65, 26.3], "nice": false, "zero": false}, "axis": {"orient": "left", "values": [0, 5, 10, 15, 20, 25], "ticks": false, "labels": false, "title": null}},
       "color": {"field": "method", "type": "nominal", "title": null, "scale": {"domain": ["Radiello", "Zuercher"], "range": ["#2f4e8e", "#e3161d"]}},
       "detail": {"field": "seg", "type": "nominal"}
     }},
    {"width": 318, "height": 281, "data": {"name": "BA"},
     "transform": [{"fold": ["Radiello", "Zuercher"], "as": ["method", "NH3"]}],
     "mark": {"type": "line", "strokeWidth": 2},
     "encoding": {
       "x": {"field": "Start", "type": "quantitative", "scale": {"domain": [2002.66, 2006.86], "nice": false, "zero": false}, "axis": {"orient": "bottom", "values": [2003, 2004, 2005, 2006], "format": "d", "title": null}},
       "y": {"field": "NH3", "type": "quantitative", "scale": {"domain": [-1.65, 26.3], "nice": false, "zero": false}, "axis": {"orient": "right", "values": [0, 5, 10, 15, 20, 25], "labels": false, "title": null}},
       "color": {"field": "method", "type": "nominal", "title": null, "scale": {"domain": ["Radiello", "Zuercher"], "range": ["#2f4e8e", "#e3161d"]}},
       "detail": {"field": "seg", "type": "nominal"}
     }}
  ],
  "config": {
    "font": "Liberation Sans",
    "view": {"stroke": "black", "strokeWidth": 2},
    "text": {"font": "Liberation Sans", "fontSize": 32, "color": "black"},
    "axis": {
      "domain": false, "grid": true,
      "gridColor": "#bdbdbd", "gridDash": [1.5, 3.5], "gridWidth": 1.4,
      "tickColor": "black", "tickSize": 15, "tickWidth": 2,
      "labelFont": "Liberation Sans", "labelFontSize": 26, "labelColor": "black", "labelPadding": 14,
      "labelFlush": false, "labelOverlap": false, "labelBound": false,
      "titleFont": "Liberation Sans", "titleFontSize": 30, "titleFontWeight": "normal", "titleColor": "black"
    },
    "legend": {
      "orient": "none", "legendX": 799, "legendY": 26, "padding": 0,
      "symbolType": "stroke", "symbolSize": 225, "symbolStrokeWidth": 2,
      "labelFont": "Liberation Sans", "labelFontSize": 26, "labelOffset": 4, "rowPadding": 2,
      "labelColor": {"expr": "datum.value === 'Radiello' ? '#2f4e8e' : '#e3161d'"}
    }
  }
}
